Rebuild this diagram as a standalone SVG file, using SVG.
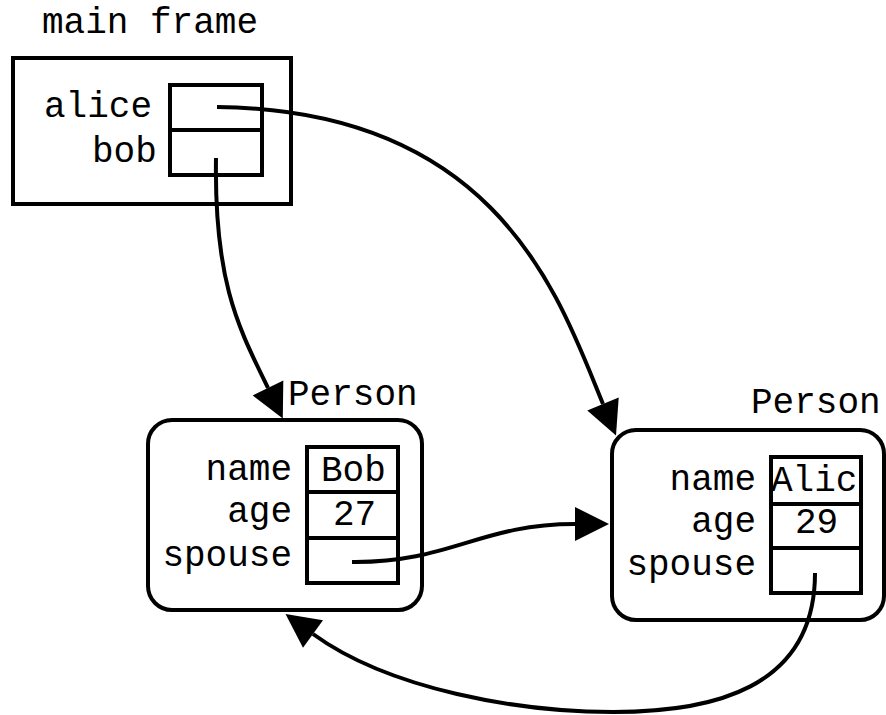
<svg xmlns="http://www.w3.org/2000/svg" width="886" height="715" viewBox="0 0 886 715">
  <style>
    text { font-family: "Liberation Mono", "DejaVu Sans Mono", monospace; font-size: 36px; fill: #000; }
    .box { fill: #fff; stroke: #000; stroke-width: 4; }
    .cell { fill: none; stroke: #000; stroke-width: 4; }
    .lbl { text-anchor: end; }
    .edge { fill: none; stroke: #000; stroke-width: 4; marker-end: url(#head); }
  </style>
  <defs>
    <marker id="head" markerUnits="userSpaceOnUse" markerWidth="36" markerHeight="36" refX="0" refY="17" orient="auto" overflow="visible">
      <path d="M0,0 L34,17 L0,34 Z" fill="#000"/>
    </marker>
  </defs>

  <rect width="886" height="715" fill="#fff"/>

  <!-- stack frame holding the two local variables -->
  <g id="main-frame">
    <text x="42" y="33">main frame</text>
    <rect class="box" x="13" y="58" width="278" height="146"/>
    <text x="44" y="117">alice</text>
    <text x="92" y="162">bob</text>
    <rect class="cell" x="170" y="85" width="92" height="45"/>
    <rect class="cell" x="170" y="130" width="92" height="45"/>
  </g>

  <!-- Person object for Bob -->
  <g id="person-bob">
    <text x="288" y="405">Person</text>
    <rect class="box" x="148" y="420" width="274" height="190" rx="24"/>
    <text class="lbl" x="292" y="480">name</text>
    <text class="lbl" x="292" y="522">age</text>
    <text class="lbl" x="292" y="566">spouse</text>
    <rect class="cell" x="307" y="447" width="91" height="45"/>
    <rect class="cell" x="307" y="492" width="91" height="46"/>
    <rect class="cell" x="307" y="538" width="91" height="45"/>
    <text x="321" y="481">Bob</text>
    <text x="333" y="525">27</text>
  </g>

  <!-- Person object for Alice -->
  <g id="person-alice">
    <text x="751" y="413">Person</text>
    <rect class="box" x="612" y="430" width="272" height="190" rx="24"/>
    <text class="lbl" x="756" y="490">name</text>
    <text class="lbl" x="756" y="532">age</text>
    <text class="lbl" x="756" y="575">spouse</text>
    <rect class="cell" x="771" y="457" width="90" height="47"/>
    <rect class="cell" x="771" y="504" width="90" height="44"/>
    <rect class="cell" x="771" y="548" width="90" height="45"/>
    <text x="771" y="491">Alic</text>
    <text x="795" y="533">29</text>
  </g>

  <!-- references -->
  <g id="connectors">
    <path class="edge" d="M217,107 C500,110 560,300 603,404"/>
    <path class="edge" d="M216,158 C214,285 240,330 268,388"/>
    <path class="edge" d="M352,562 C450,563 480,524 575,524"/>
    <path class="edge" d="M815,573 C815,690 710,712 613,712 C520,712 390,690 313,634"/>
  </g>
</svg>
